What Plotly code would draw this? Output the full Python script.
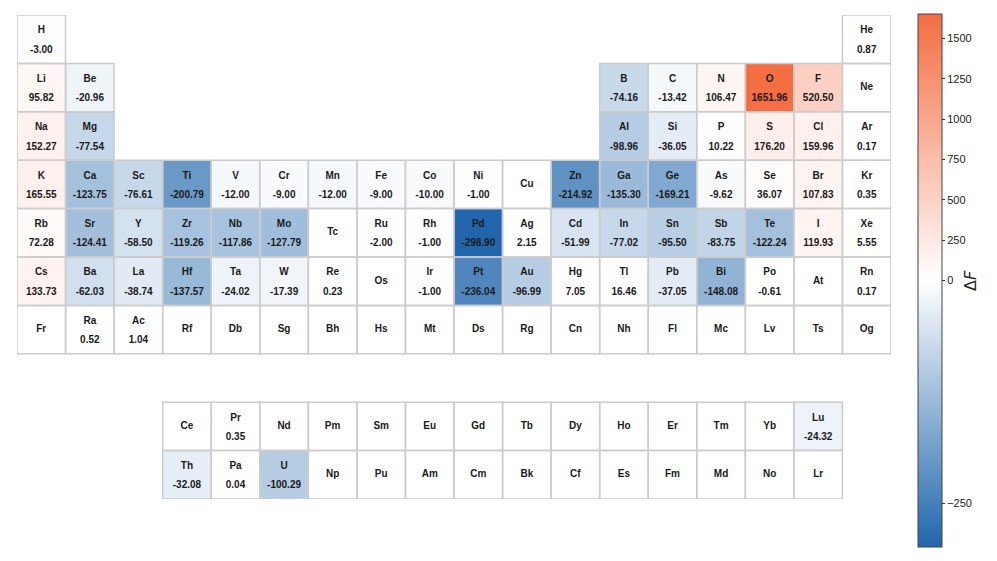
import numpy as np
import plotly.graph_objects as go

# element symbols in order of atomic number
symbols = [
    "H", "He",
    "Li", "Be", "B", "C", "N", "O", "F", "Ne",
    "Na", "Mg", "Al", "Si", "P", "S", "Cl", "Ar",
    "K", "Ca", "Sc", "Ti", "V", "Cr", "Mn", "Fe", "Co", "Ni", "Cu", "Zn",
    "Ga", "Ge", "As", "Se", "Br", "Kr",
    "Rb", "Sr", "Y", "Zr", "Nb", "Mo", "Tc", "Ru", "Rh", "Pd", "Ag", "Cd",
    "In", "Sn", "Sb", "Te", "I", "Xe",
    "Cs", "Ba", "La", "Ce", "Pr", "Nd", "Pm", "Sm", "Eu", "Gd", "Tb", "Dy",
    "Ho", "Er", "Tm", "Yb", "Lu", "Hf", "Ta", "W", "Re", "Os", "Ir", "Pt",
    "Au", "Hg", "Tl", "Pb", "Bi", "Po", "At", "Rn",
    "Fr", "Ra", "Ac", "Th", "Pa", "U", "Np", "Pu", "Am", "Cm", "Bk", "Cf",
    "Es", "Fm", "Md", "No", "Lr", "Rf", "Db", "Sg", "Bh", "Hs", "Mt", "Ds",
    "Rg", "Cn", "Nh", "Fl", "Mc", "Lv", "Ts", "Og",
]

# delta F per element (None = no value)
delta_f = [
    -3.00, 0.87,
    95.82, -20.96, -74.16, -13.42, 106.47, 1651.96, 520.50, None,
    152.27, -77.54, -98.96, -36.05, 10.22, 176.20, 159.96, 0.17,
    165.55, -123.75, -76.61, -200.79, -12.00, -9.00, -12.00, -9.00, -10.00, -1.00, None, -214.92,
    -135.30, -169.21, -9.62, 36.07, 107.83, 0.35,
    72.28, -124.41, -58.50, -119.26, -117.86, -127.79, None, -2.00, -1.00, -298.90, 2.15, -51.99,
    -77.02, -95.50, -83.75, -122.24, 119.93, 5.55,
    133.73, -62.03, -38.74, None, 0.35, None, None, None, None, None, None, None,
    None, None, None, None, -24.32, -137.57, -24.02, -17.39, 0.23, None, -1.00, -236.04,
    -96.99, 7.05, 16.46, -37.05, -148.08, -0.61, None, 0.17,
    None, 0.52, 1.04, -32.08, 0.04, -100.29, None, None, None, None, None, None,
    None, None, None, None, None, None, None, None, None, None, None, None,
    None, None, None, None, None, None, None, None,
]


def position(z):
    # (row, col) of atomic number z in the table, f-block in rows 8 and 9
    if z <= 2:
        return 0, (0 if z == 1 else 17)
    for start, row in ((3, 1), (11, 2)):
        if start <= z < start + 8:
            i = z - start
            return row, (i if i < 2 else i + 10)
    if 19 <= z <= 36:
        return 3, z - 19
    if 37 <= z <= 54:
        return 4, z - 37
    for start, row, frow in ((55, 5, 8), (87, 6, 9)):
        if start <= z < start + 32:
            i = z - start
            if i <= 2:
                return row, i
            if i <= 16:
                return frow, i
            return row, i - 14
    raise ValueError(z)


vmin = min(v for v in delta_f if v is not None)
vmax = max(v for v in delta_f if v is not None)


def norm(v):
    # two-slope normalisation with white at zero
    if v < 0:
        return 0.5 + 0.5 * v / abs(vmin)
    return 0.5 + 0.5 * v / vmax


n_rows, n_cols = 10, 18
zgrid = np.full((n_rows, n_cols), np.nan)
sym_x, sym_y, sym_t = [], [], []
val_x, val_y, val_t = [], [], []
cells = []
for z, (s, v) in enumerate(zip(symbols, delta_f), start=1):
    r, c = position(z)
    cells.append((r, c))
    if v is None:
        sym_x.append(c); sym_y.append(r); sym_t.append(f"<b>{s}</b>")
    else:
        zgrid[r, c] = norm(v)
        sym_x.append(c); sym_y.append(r - 0.17); sym_t.append(f"<b>{s}</b>")
        val_x.append(c); val_y.append(r + 0.23); val_t.append(f"<b>{v:.2f}</b>")

tick_vals = [-250, 0, 250, 500, 750, 1000, 1250, 1500]

colors = [[0.0, "#2166ac"], [0.5, "#ffffff"], [1.0, "#f46d43"]]

fig = go.Figure()
fig.add_trace(go.Heatmap(
    z=zgrid, x=list(range(n_cols)), y=list(range(n_rows)),
    colorscale=colors, zmin=0, zmax=1, hoverinfo="skip",
    colorbar=dict(
        tickvals=[norm(t) for t in tick_vals],
        ticktext=[str(t).replace("-", "\u2212") for t in tick_vals],
        ticks="outside", ticklen=3, tickcolor="#333",
        tickfont=dict(family="Liberation Sans, Arial", size=11, color="#222"),
        thickness=24, lenmode="pixels", len=533, ypad=0, xpad=0,
        x=1.031, xanchor="left", y=0.4514, yanchor="middle",
        outlinewidth=1, outlinecolor="#444",
    ),
))

font = dict(family="Liberation Sans Narrow, Arial Narrow, Liberation Sans", size=10, color="#1a1a1a")
fig.add_trace(go.Scatter(x=sym_x, y=sym_y, text=sym_t, mode="text",
                         textfont=font, hoverinfo="skip", showlegend=False))
fig.add_trace(go.Scatter(x=val_x, y=val_y, text=val_t, mode="text",
                         textfont=font, hoverinfo="skip", showlegend=False))

for r, c in cells:
    fig.add_shape(type="rect", x0=c - 0.5, x1=c + 0.5, y0=r - 0.5, y1=r + 0.5,
                  line=dict(color="#cccccc", width=1.5), layer="above")

# colorbar label, set a bit further out than plotly's own title would sit
fig.add_annotation(text="\u0394<i>F</i>", xref="paper", yref="paper",
                   x=1.104, y=0.4514, textangle=-90, showarrow=False,
                   font=dict(family="DejaVu Sans", size=16, color="#222"))

fig.update_xaxes(range=[-0.5, n_cols - 0.5], visible=False, fixedrange=True)
fig.update_yaxes(range=[n_rows - 0.5, -0.5], visible=False, fixedrange=True)
# the page body adds 8px around the figure, so margins are shifted by that much
fig.update_layout(
    width=997, height=561,
    margin=dict(l=9, r=114, t=7, b=70),
    paper_bgcolor="white", plot_bgcolor="white",
    showlegend=False,
)

fig.write_html("out.html")
